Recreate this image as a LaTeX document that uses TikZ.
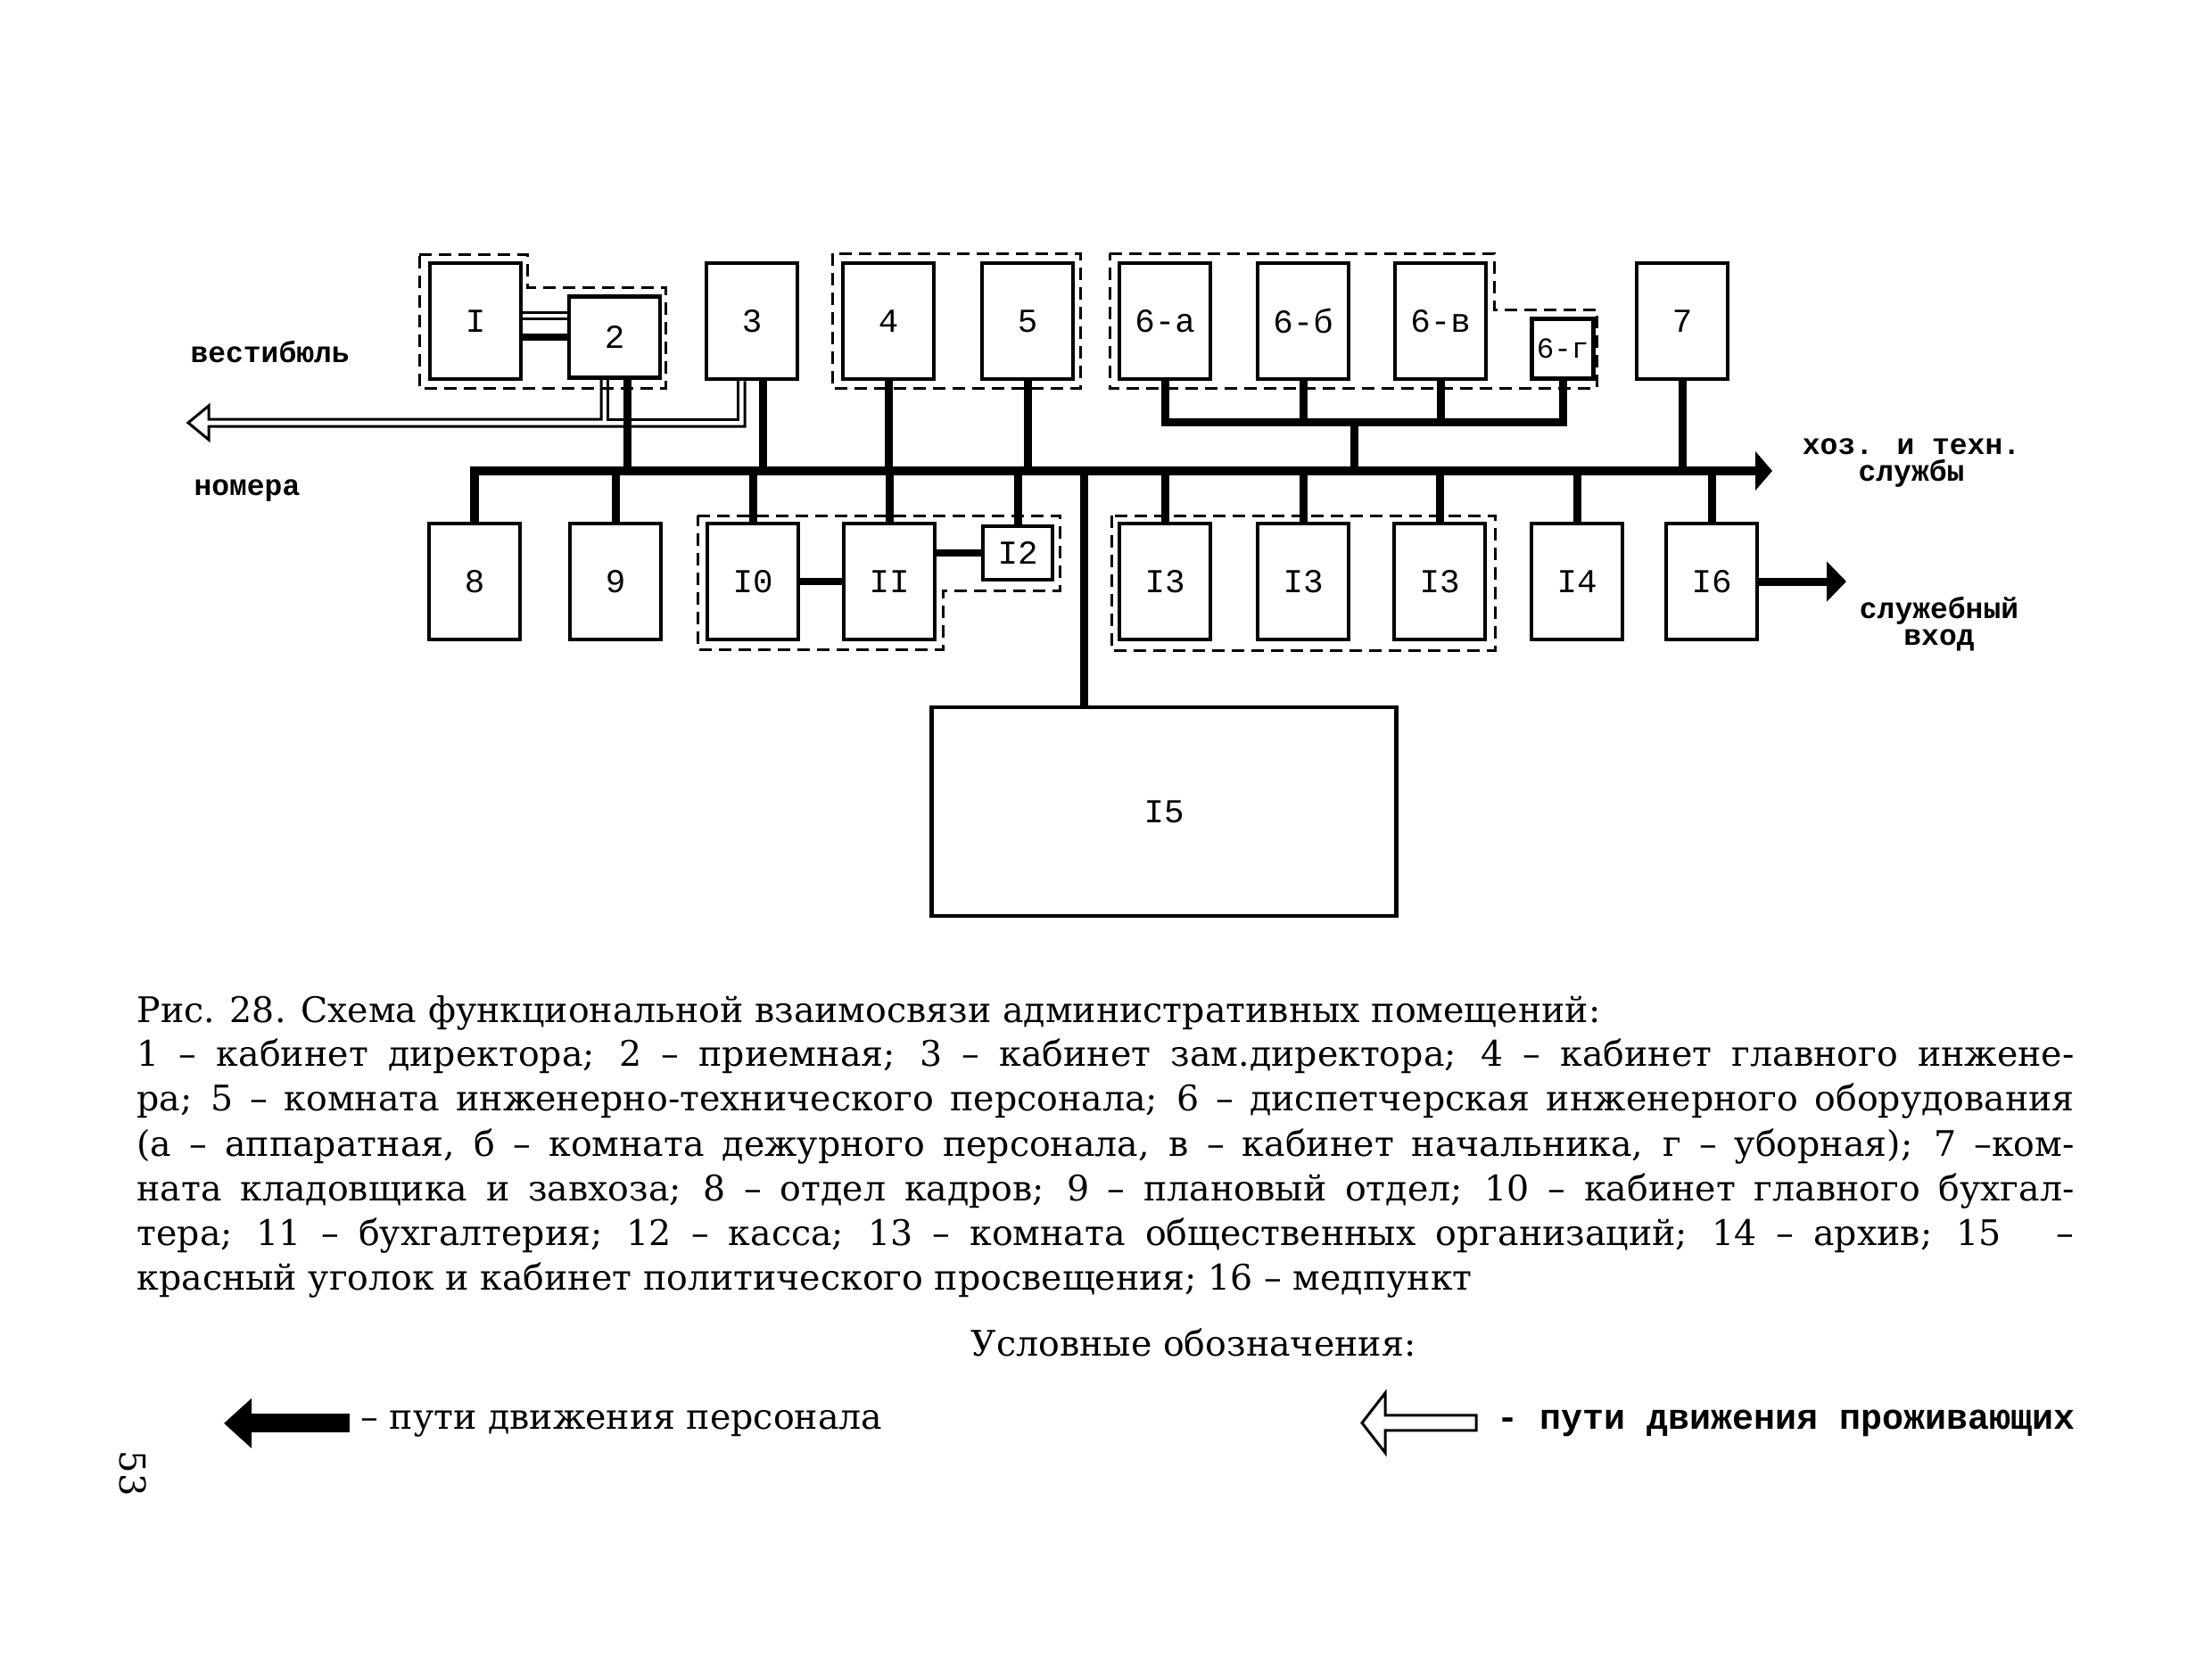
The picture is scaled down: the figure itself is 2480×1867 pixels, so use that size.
\documentclass[tikz,border=0pt]{standalone}
\usepackage{fontspec}
\setmainfont{DejaVu Serif}
\newfontfamily\capfont{DejaVu Serif}
\newfontfamily\labfont{Liberation Mono}
\usetikzlibrary{arrows.meta, positioning}

\begin{document}
\begin{tikzpicture}[x=0.4pt, y=-0.4pt,
        room/.style={rectangle, draw, line width=1.8pt, inner sep=0pt, minimum width=40.8pt, minimum height=52pt, font=\labfont\fontsize{15}{15}\selectfont},
        grp/.style={line width=1.2pt, dash pattern=on 5.6pt off 3.2pt},
        link/.style={line width=3.6pt},
        bus/.style={line width=4pt, line join=miter},
        pipe/.style={line width=1.2pt, line join=miter},
        tag/.style={font=\labfont\bfseries\fontsize{13.2}{12}\selectfont, align=center, inner sep=0pt},
        captext/.style={font=\capfont\fontsize{15.8}{20}\selectfont, inner sep=0pt, anchor=base west},
        head/.style={-{Triangle[length=8.8pt, width=17.6pt]}}
        ]
        \fill[white] (0,0) rectangle (2480,1867);
        \useasboundingbox (0,0) rectangle (2480,1867);

        % upper row
        \node[room] (r1) at (533,360) {I};
        \node[room, minimum height=36.4pt] (r2) at (689,378) {2};
        \node[room] (r3) at (843,360) {3};
        \node[room] (r4) at (996,360) {4};
        \node[room] (r5) at (1152,360) {5};
        \node[room] (r6a) at (1306,360) {6-а};
        \node[room] (r6b) at (1461,360) {6-б};
        \node[room] (r6c) at (1615,360) {6-в};
        \node[room, minimum width=27.6pt, minimum height=26.8pt, font=\labfont\fontsize{13}{13}\selectfont] (r6d) at (1752,391) {6-г};
        \node[room] (r7) at (1886,360) {7};

        % lower row
        \node[room] (r8) at (532,652) {8};
        \node[room] (r9) at (690,652) {9};
        \node[room] (r10) at (844,652) {I0};
        \node[room] (r11) at (997,652) {II};
        \node[room, minimum width=31.2pt, minimum height=24pt] (r12) at (1141,620) {I2};
        \node[room] (r13a) at (1306,652) {I3};
        \node[room] (r13b) at (1461,652) {I3};
        \node[room] (r13c) at (1614,652) {I3};
        \node[room] (r14) at (1768,652) {I4};
        \node[room] (r16) at (1919,652) {I6};
        \node[room, minimum width=208.4pt, minimum height=93.6pt] (r15) at (1305,910) {I5};

        % groups
        \draw[grp] (470,285) -- (591,285) -- (591,322) -- (746,322) -- (746,435) -- (470,435) -- cycle;
        \draw[grp] (933,284) rectangle (1211,435);
        \draw[grp] (1244,284) -- (1675,284) -- (1675,347) -- (1790,347) -- (1790,435) -- (1244,435) -- cycle;
        \draw[grp] (782,578) -- (1188,578) -- (1188,662) -- (1057,662) -- (1057,728) -- (782,728) -- cycle;
        \draw[grp] (1246,578) rectangle (1676,729);

        \coordinate (bus) at (0,528);
        \coordinate (hoz) at (1987,528);
        \coordinate (sub) at (1518,473);
        \coordinate (tap) at (1215,528);
        \coordinate (door) at (2070,652);
        \coordinate (p2c) at ([xshift=5.6pt]r2.south);
        \coordinate (p3c) at ([xshift=4.8pt]r3.south);

        % staff paths
        \draw[bus, -{Triangle[length=7.6pt, width=17.2pt]}] (r8.north) |- (hoz);
        \draw[link] (p2c) -- (p2c |- bus);
        \draw[link] (p3c) -- (p3c |- bus);
        \foreach \r in {r4,r5,r7}
            \draw[link] (\r.south) -- (\r.south |- bus);
        \draw[link, line join=miter] (r6a.south) |- (r6d.south |- sub) -- (r6d.south);
        \foreach \r in {r6b,r6c}
            \draw[link] (\r.south) -- (\r.south |- sub);
        \draw[link] (sub) -- (sub |- bus);
        \foreach \r in {r9,r10,r11,r12,r13a,r13b,r13c,r14,r16}
            \draw[link] (\r.north) -- (\r.north |- bus);
        \draw[link] (tap) -- (tap |- r15.north);
        \draw[line width=3.2pt] (r2.west -| r1.east) -- (r2.west);
        \draw[line width=3.2pt] (r10) -- (r11);
        \draw[line width=3.2pt] (r12.west -| r11.east) -- (r12.west);
        \draw[link, head] (r16) -- (door);

        % residents paths
        \coordinate (lobby) at (211,474);
        \coordinate (neck) at (234,0);
        \coordinate (tubeU) at (0,470);
        \coordinate (tubeD) at (0,478);
        \coordinate (d1) at ([yshift=11.2pt]r2.west);
        \coordinate (d2) at ([yshift=8.4pt]r2.west);
        \coordinate (p2a) at ([xshift=-6pt]r2.south);
        \coordinate (p2b) at ([xshift=-3.2pt]r2.south);
        \coordinate (p3a) at ([xshift=-6.4pt]r3.south);
        \coordinate (p3b) at ([xshift=-3.2pt]r3.south);
        \draw[pipe] (d1 -| r1.east) -- (d1);
        \draw[pipe] (d2 -| r1.east) -- (d2);
        \draw[pipe] (p2a) |- (neck |- tubeU) -- ++(0,-15) -- (lobby) -- ++(23,19) -- (neck |- tubeD) -| (p3b);
        \draw[pipe] (p2b) |- (p3a |- tubeU) -- (p3a);

        \node[tag, anchor=west] (vest) at (213,395) {вестибюль};
        \node[tag, anchor=west] (nom) at (217,550) {номера};
        \node[tag] (serv) at (2143,519) {хоз. и техн.\\службы};
        \node[tag] (ent) at (2174,700) {служебный\\вход};

        % caption
        \node[captext] (cap1) at (153,1146) {Рис. 28. Схема функциональной взаимосвязи административных помещений:};
        \node[captext] (cap2) at (153,1195) {\makebox[868.8pt][s]{1 – кабинет директора; 2 – приемная; 3 – кабинет зам.директора; 4 – кабинет главного инжене-}};
        \node[captext] (cap3) at (153,1245) {\makebox[868.8pt][s]{ра; 5 – комната инженерно-технического персонала; 6 – диспетчерская инженерного оборудования}};
        \node[captext] (cap4) at (153,1296) {\makebox[868.8pt][s]{(а – аппаратная, б – комната дежурного персонала, в – кабинет начальника, г – уборная); 7 –ком-}};
        \node[captext] (cap5) at (153,1346) {\makebox[868.8pt][s]{ната кладовщика и завхоза; 8 – отдел кадров; 9 – плановый отдел; 10 – кабинет главного бухгал-}};
        \node[captext] (cap6) at (153,1396) {\makebox[868.8pt][s]{тера; 11 – бухгалтерия; 12 – касса; 13 – комната общественных организаций; 14 – архив; 15\hspace{16pt} –}};
        \node[captext] (cap7) at (153,1446) {красный уголок и кабинет политического просвещения; 16 – медпункт};

        % legend
        \node[captext, anchor=base] (lgt) at (1338,1520) {Условные обозначения:};
        \node[captext] (lg1) at (404,1602) {– пути движения персонала};
        \node[tag, anchor=base west, font=\labfont\bfseries\fontsize{16}{16}\selectfont] (lg2) at (1678,1602) {- пути движения проживающих};
        \draw[line width=8.4pt, -{Triangle[length=12.4pt, width=21.6pt]}] ([xshift=-4.8pt]lg1.west) -- ++(-141,0);
        \draw[pipe] ([xshift=-9.2pt, yshift=3.4pt]lg2.west) -- ++(-102,0) -- ++(0,-25) -- ++(-26,33.5) -- ++(26,33.5) -- ++(0,-25) -- ++(102,0) -- cycle;

        \node[font=\capfont\fontsize{16}{16}\selectfont, rotate=-90, inner sep=0pt] (pg) at (149,1652) {53};
        \end{tikzpicture}
\end{document}
